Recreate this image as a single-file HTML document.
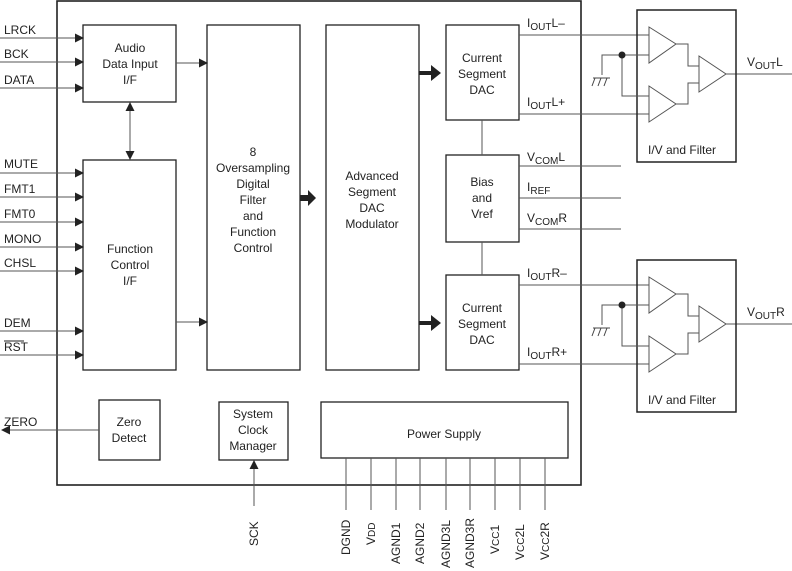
<!DOCTYPE html>
<html><head><style>
html,body{margin:0;padding:0;background:#fff;}
svg{display:block;font-family:"Liberation Sans",Arial,sans-serif;}
text{fill:#222;font-size:12px;}
</style></head><body>
<svg width="792" height="571" viewBox="0 0 792 571" xmlns="http://www.w3.org/2000/svg">
<defs>
<marker id="ar" markerWidth="9" markerHeight="9" refX="8" refY="4.5" orient="auto-start-reverse" markerUnits="userSpaceOnUse"><path d="M0,0 L9,4.5 L0,9 z" fill="#222"/></marker>
<g id="iv">
<rect x="637" y="10" width="99" height="152" fill="none" stroke="#222" stroke-width="1.5"/>
<path d="M649,27 L676,44 L649,63 z M649,86 L676,104 L649,122 z M699,56 L726,74 L699,92 z" fill="#fff" stroke="#555" stroke-width="1"/>
<path d="M676,44 H688 V66 H699 M676,104 H688 V83 H699 M602,75 V55 H649 M622,55 V96 H649" fill="none" stroke="#555" stroke-width="1"/>
<circle cx="622" cy="55" r="3.5" fill="#222"/>
<path d="M593,78 H610 M595,78 l-3,8 M601,78 l-3,8 M607,78 l-3,8" stroke="#444" stroke-width="1" fill="none"/>
<text x="648" y="154">I/V and Filter</text>
</g>
</defs>
<g stroke="#222" fill="none">
<rect x="57" y="1" width="524" height="484" stroke-width="1.6"/>
<g stroke-width="1.3">
<rect x="83" y="25" width="93" height="77"/>
<rect x="83" y="160" width="93" height="210"/>
<rect x="207" y="25" width="93" height="345"/>
<rect x="326" y="25" width="93" height="345"/>
<rect x="446" y="25" width="73" height="95"/>
<rect x="446" y="155" width="73" height="87"/>
<rect x="446" y="275" width="73" height="95"/>
<rect x="99" y="400" width="61" height="60"/>
<rect x="219" y="402" width="69" height="58"/>
<rect x="321" y="402" width="247" height="56"/>
</g>
</g>
<g stroke="#555" stroke-width="1" fill="none" marker-end="url(#ar)">
<path d="M0,38 H83"/><path d="M0,62 H83"/><path d="M0,88 H83"/>
<path d="M0,173 H83"/><path d="M0,197 H83"/><path d="M0,222 H83"/>
<path d="M0,247 H83"/><path d="M0,271 H83"/><path d="M0,331 H83"/><path d="M0,355 H83"/>
<path d="M176,63 H207"/><path d="M176,322 H207"/>
<path d="M130,103 V159" marker-start="url(#ar)"/>
<path d="M254,506 V461"/>
<path d="M99,430 H2"/>
</g>
<g stroke="#555" stroke-width="1" fill="none">
<path d="M482,120 V155 M482,242 V275"/>
<path d="M519,35 H649 M519,114 H649 M519,285 H649 M519,364 H649"/>
<path d="M519,166 H621 M519,198 H621 M519,229 H621"/>
<path d="M726,74 H792 M726,324 H792"/>
<path d="M346,458 V510 M371,458 V510 M396,458 V510 M420,458 V510 M446,458 V510 M470,458 V510 M495,458 V510 M520,458 V510 M545,458 V510"/>
</g>
<g fill="#222">
<path d="M300,195 h8 v-5 l8,8 l-8,8 v-5 h-8 z"/>
<path d="M419,71 h12 v-6 l10,8 l-10,8 v-6 h-12 z"/>
<path d="M419,321 h12 v-6 l10,8 l-10,8 v-6 h-12 z"/>
</g>
<use href="#iv"/>
<use href="#iv" transform="translate(0,250)"/>
<g font-size="12">
<text x="4" y="34">LRCK</text><text x="4" y="58">BCK</text><text x="4" y="84">DATA</text>
<text x="4" y="168">MUTE</text><text x="4" y="193">FMT1</text><text x="4" y="218">FMT0</text>
<text x="4" y="243">MONO</text><text x="4" y="267">CHSL</text><text x="4" y="327">DEM</text>
<text x="4" y="351">RST</text><path d="M4,341 H24" stroke="#222" stroke-width="1"/>
<text x="4" y="426">ZERO</text>
</g>
<g text-anchor="middle">
<text x="130" y="52">Audio</text><text x="130" y="68">Data Input</text><text x="130" y="84">I/F</text>
<text x="130" y="253">Function</text><text x="130" y="269">Control</text><text x="130" y="285">I/F</text>
<text x="253" y="156">8</text><text x="253" y="172">Oversampling</text><text x="253" y="188">Digital</text><text x="253" y="204">Filter</text><text x="253" y="220">and</text><text x="253" y="236">Function</text><text x="253" y="252">Control</text>
<text x="372" y="180">Advanced</text><text x="372" y="196">Segment</text><text x="372" y="212">DAC</text><text x="372" y="228">Modulator</text>
<text x="482" y="62">Current</text><text x="482" y="78">Segment</text><text x="482" y="94">DAC</text>
<text x="482" y="186">Bias</text><text x="482" y="202">and</text><text x="482" y="218">Vref</text>
<text x="482" y="312">Current</text><text x="482" y="328">Segment</text><text x="482" y="344">DAC</text>
<text x="129" y="426">Zero</text><text x="129" y="442">Detect</text>
<text x="253" y="418">System</text><text x="253" y="434">Clock</text><text x="253" y="450">Manager</text>
<text x="444" y="438">Power Supply</text>
</g>
<g font-size="12">
<text x="527" y="27">I<tspan font-size="10" dy="3">OUT</tspan><tspan dy="-3">L–</tspan></text>
<text x="527" y="106">I<tspan font-size="10" dy="3">OUT</tspan><tspan dy="-3">L+</tspan></text>
<text x="527" y="161">V<tspan font-size="10" dy="3">COM</tspan><tspan dy="-3">L</tspan></text>
<text x="527" y="191">I<tspan font-size="10" dy="3">REF</tspan></text>
<text x="527" y="222">V<tspan font-size="10" dy="3">COM</tspan><tspan dy="-3">R</tspan></text>
<text x="527" y="277">I<tspan font-size="10" dy="3">OUT</tspan><tspan dy="-3">R–</tspan></text>
<text x="527" y="356">I<tspan font-size="10" dy="3">OUT</tspan><tspan dy="-3">R+</tspan></text>
<text x="747" y="66">V<tspan font-size="10" dy="3">OUT</tspan><tspan dy="-3">L</tspan></text>
<text x="747" y="316">V<tspan font-size="10" dy="3">OUT</tspan><tspan dy="-3">R</tspan></text>
</g>
<g font-size="12">
<text transform="translate(258,546) rotate(-90)">SCK</text>
<text transform="translate(350,555) rotate(-90)">DGND</text>
<text transform="translate(375,545) rotate(-90)">V<tspan font-size="10">DD</tspan></text>
<text transform="translate(400,564) rotate(-90)">AGND1</text>
<text transform="translate(424,564) rotate(-90)">AGND2</text>
<text transform="translate(450,568) rotate(-90)">AGND3L</text>
<text transform="translate(474,568) rotate(-90)">AGND3R</text>
<text transform="translate(499,554) rotate(-90)">V<tspan font-size="10">CC</tspan>1</text>
<text transform="translate(524,560) rotate(-90)">V<tspan font-size="10">CC</tspan>2L</text>
<text transform="translate(549,560) rotate(-90)">V<tspan font-size="10">CC</tspan>2R</text>
</g>
</svg>
</body></html>
